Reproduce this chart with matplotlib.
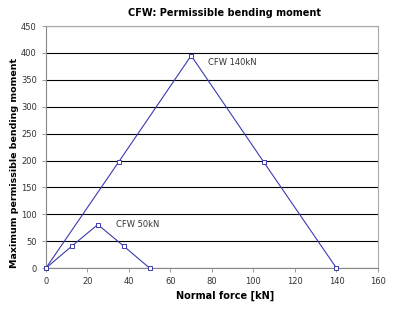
import matplotlib
matplotlib.use("Agg")
import matplotlib.pyplot as plt

x_140 = [0, 35, 70, 105, 140]
y_140 = [0, 197, 395, 197, 0]
x_50 = [0, 12.5, 25, 37.5, 50]
y_50 = [0, 41, 81, 41, 0]
labels = ["CFW 140kN", "CFW 50kN"]

fig = plt.figure(figsize=(4.06, 3.10), dpi=100)
ax = fig.add_axes([0.113, 0.135, 0.818, 0.781])
color = "#3b3bb0"
for xs, ys in [(x_140, y_140), (x_50, y_50)]:
    ax.plot(xs, ys, color=color, lw=0.8, marker="s", ms=2.4, mfc="white",
            mec=color, mew=0.7, clip_on=False, zorder=3)

ax.text(78, 383, labels[0], fontsize=6, color="#333333", va="center")
ax.text(33.7, 82, labels[1], fontsize=6, color="#333333", va="center")

ax.set_xlim(0, 160)
ax.set_ylim(0, 450)
ax.set_xticks(range(0, 161, 20))
ax.set_yticks(range(0, 451, 50))
ax.yaxis.grid(True, color="black", lw=0.8)
ax.set_axisbelow(True)
for s in ["top", "right"]:
    ax.spines[s].set_color("#aaaaaa")
for s in ["left", "bottom"]:
    ax.spines[s].set_color("#888888")
ax.tick_params(labelsize=6, colors="#333333", length=3, width=0.6)
ax.tick_params(axis="both", color="#888888")
ax.set_title("CFW: Permissible bending moment", fontsize=7, fontweight="bold",
             x=0.539, pad=7)
ax.set_xlabel("Normal force [kN]", fontsize=7, fontweight="bold")
ax.xaxis.set_label_coords(0.539, -0.095)
ax.set_ylabel("Maximum permissible bending moment", fontsize=6.8, fontweight="bold")
ax.yaxis.set_label_coords(-0.08, 0.434)
fig.savefig("out.png", dpi=100)
